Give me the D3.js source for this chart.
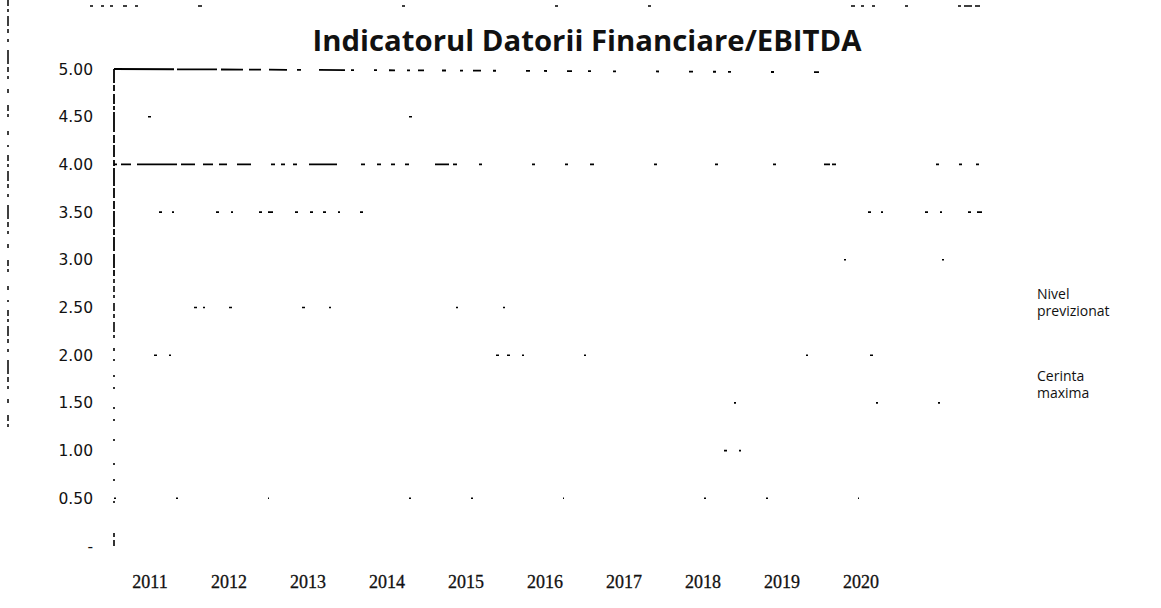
<!DOCTYPE html>
<html>
<head>
<meta charset="utf-8">
<script src="https://cdn.jsdelivr.net/npm/d3@7/dist/d3.min.js"></script>
<style>
  html, body { margin: 0; padding: 0; background: #fff; }
  svg { display: block; }
</style>
</head>
<body>
<svg id="chart" width="1161" height="608"></svg>
<script>
// ---- data ----
const categories = ["2011","2012","2013","2014","2015","2016","2017","2018","2019","2020"];
const yTicks = [0, 0.5, 1, 1.5, 2, 2.5, 3, 3.5, 4, 4.5, 5];
const yTickLabels = ["-", "0.50", "1.00", "1.50", "2.00", "2.50", "3.00", "3.50", "4.00", "4.50", "5.00"];
const cerintaMaxima = [4, 4, 4, 4, 4, 4, 4, 4, 4, 4];
const seriesNames = ["Nivel previzionat", "Cerinta maxima"];
const titleText = "Indicatorul Datorii Financiare/EBITDA";

// ---- layout ----
const svg = d3.select("#chart");
const plotLeft = 114, plotRight = 990, plotTop = 69, plotBottom = 546;

const x = d3.scaleBand().domain(categories).range([110.5, 900.5]).padding(0);
const y = d3.scaleLinear().domain([0, 5]).range([plotBottom, plotTop]);

// scan-like faint gridlines (mostly lost in the reference)
const gridPatterns = {
  0.5: "2,60,2,90,1,140",
  1:   "0,610,3,12,2,400",
  1.5: "0,620,2,140,2,60,2,400",
  2:   "0,40,3,12,2,25,0,300,3,8,3,12,2,60,2,220,2,62,3,200,2,400",
  2.5: "0,80,3,6,2,24,3,70,3,24,2,125,2,45,2,600",
  3:   "0,730,2,96,2,400",
  3.5: "0,45,3,10,2,42,3,12,2,26,3,6,5,22,3,12,3,10,3,12,2,20,3,460",
  4.5: "0,34,3,258,3,900"
};
const gridG = svg.append("g");
Object.keys(gridPatterns).forEach(k => {
  const v = +k;
  gridG.append("line")
    .attr("x1", plotLeft).attr("x2", plotRight)
    .attr("y1", y(v)).attr("y2", y(v))
    .attr("stroke", "#000").attr("stroke-width", 1.6)
    .attr("stroke-dasharray", gridPatterns[k]);
});

// top border at 5.00
svg.append("line")
  .attr("x1", plotLeft).attr("x2", plotRight)
  .attr("y1", y(5)).attr("y2", y(5) + 4)
  .attr("stroke", "#000").attr("stroke-width", 1.8)
  .attr("stroke-dasharray", "60,3,40,4,22,6,12,8,18,10,4,18,26,6,3,20,3,12,6,12,3,8,6,18,4,14,3,10,8,12,3,30,4,14,3,20,5,16,3,22,3,40,3,30,4,20,3,12,3,40,3,40,5,400");

// Cerinta maxima line at 4.00, drawn from data through the scales
const lineData = cerintaMaxima.map((v, i) => ({c: categories[i], v}));
const cmLine = d3.line()
  .x((d, i) => i === 0 ? plotLeft : (i === lineData.length - 1 ? plotRight : x(d.c) + x.bandwidth() / 2))
  .y(d => y(d.v));
svg.append("path")
  .datum(lineData)
  .attr("d", cmLine)
  .attr("fill", "none")
  .attr("stroke", "#000").attr("stroke-width", 1.8)
  .attr("stroke-dasharray", "3,4,10,6,40,4,14,8,10,6,8,10,14,20,4,6,4,8,4,12,28,24,4,12,4,10,4,10,4,26,14,4,4,22,3,50,3,30,3,22,4,60,3,58,3,55,3,48,6,2,4,100,3,20,3,14,3,20,3,26,4,30,3,16,3,18,3,24,3,200");

// left axis line
const axG = svg.append("g");
axG.append("line")
  .attr("x1", plotLeft).attr("x2", plotLeft)
  .attr("y1", plotTop).attr("y2", y(2.8))
  .attr("stroke", "#000").attr("stroke-width", 1.8)
  .attr("stroke-dasharray", "14,2,6,3,10,2,4,2,20,3,8,2,12,3,6,2,18,2,10,3,8,2,16,2,6,2,14,3");
axG.append("line")
  .attr("x1", plotLeft).attr("x2", plotLeft)
  .attr("y1", y(2.8)).attr("y2", plotBottom)
  .attr("stroke", "#000").attr("stroke-width", 1.6)
  .attr("stroke-dasharray", "4,3,6,3,3,5,8,3,4,4,10,3,3,10,3,8,2,14,2,10,2,18,2,10,2,18,2,22,2,14,2,20,2,30");

// y tick labels
svg.append("g").selectAll("text")
  .data(yTicks)
  .join("text")
  .attr("x", 93)
  .attr("y", d => y(d))
  .attr("dy", "0.36em")
  .attr("text-anchor", "end")
  .attr("font-family", "DejaVu Sans, sans-serif")
  .attr("font-size", 15.5)
  .attr("fill", "#111")
  .text((d, i) => yTickLabels[i]);

// x tick labels
svg.append("g").selectAll("text")
  .data(categories)
  .join("text")
  .attr("x", d => x(d) + x.bandwidth() / 2)
  .attr("y", 588)
  .attr("text-anchor", "middle")
  .attr("font-family", "Liberation Serif, serif")
  .attr("font-size", 18)
  .attr("fill", "#111")
  .attr("stroke", "#111").attr("stroke-width", 0.3)
  .text(d => d);

// title
svg.append("text")
  .attr("x", 587)
  .attr("y", 51)
  .attr("text-anchor", "middle")
  .attr("font-family", "Open Sans, sans-serif")
  .attr("font-weight", 700)
  .attr("font-size", 29)
  .attr("textLength", 549)
  .attr("lengthAdjust", "spacingAndGlyphs")
  .attr("fill", "#111")
  .text(titleText);

// legend (series names, wrapped)
const legendLines = [
  {t: "Nivel", yy: 299}, {t: "previzionat", yy: 316},
  {t: "Cerinta", yy: 381}, {t: "maxima", yy: 398}
];
svg.append("g").selectAll("text")
  .data(legendLines)
  .join("text")
  .attr("x", 1037)
  .attr("y", d => d.yy)
  .attr("font-family", "Open Sans, sans-serif")
  .attr("font-size", 14)
  .attr("fill", "#111")
  .text(d => d.t);

// scan edge artefacts
svg.append("line")
  .attr("x1", 8).attr("x2", 8).attr("y1", 0).attr("y2", 440)
  .attr("stroke", "#000").attr("stroke-width", 1.5)
  .attr("stroke-dasharray", "6,3,3,4,10,3,4,6,3,8,14,3,5,4,3,10,4,12,6,3,3,14,4,10,2,8");
svg.append("line")
  .attr("x1", 90).attr("x2", 980).attr("y1", 6).attr("y2", 6)
  .attr("stroke", "#000").attr("stroke-width", 1.5)
  .attr("stroke-dasharray", "3,8,3,6,3,10,4,8,3,60,4,200,3,150,3,90,3,200,4,6,3,8,3,30,3,50,3");
</script>
</body>
</html>
